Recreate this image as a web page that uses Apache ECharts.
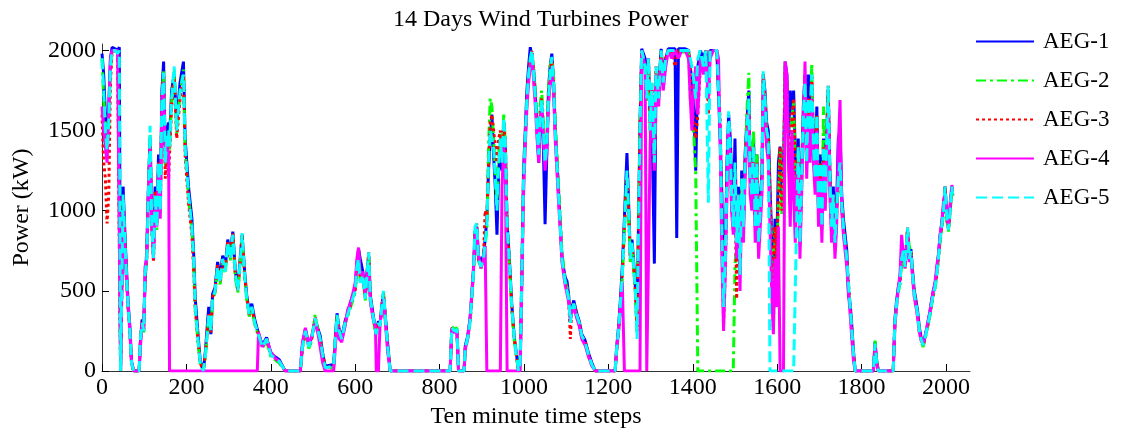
<!DOCTYPE html>
<html>
<head>
<meta charset="utf-8">
<script src="https://cdn.jsdelivr.net/npm/echarts@6/dist/echarts.min.js"></script>
<style>html,body{margin:0;padding:0;background:#fff;}#c{width:1122px;height:435px;}</style>
</head>
<body>
<div id="c"></div>
<script>
const seriesNames = ['AEG-1','AEG-2','AEG-3','AEG-4','AEG-5'];
const xTicks = [0,200,400,600,800,1000,1200,1400,1600,1800,2000];
const yTicks = [0,500,1000,1500,2000];

const steps = [
0,4,8,12,16,20,24,31,37,41,
44,50,56,62,66,70,75,88,91,95,
99,102,106,110,114,118,122,126,130,134,
138,142,146,150,154,158,160,165,171,177,
185,193,197,205,213,217,221,229,233,240,
245,250,253,258,262,268,274,280,286,292,
298,304,310,316,322,328,332,338,343,349,
355,362,368,371,380,390,400,410,420,434,
470,475,482,490,497,505,512,517,523,529,
549,553,557,562,568,576,582,588,594,600,
604,608,612,618,624,628,632,636,642,648,
650,655,659,663,667,671,677,683,825,829,
835,841,845,858,861,866,872,876,880,884,
888,892,898,904,908,912,916,920,924,928,
932,936,940,944,948,952,956,960,965,971,
977,983,987,991,995,999,1003,1007,1011,1015,
1019,1023,1027,1031,1035,1038,1042,1046,1050,1054,
1058,1062,1066,1070,1074,1078,1082,1086,1090,1094,
1098,1102,1106,1110,1113,1118,1125,1131,1137,1145,
1153,1161,1169,1216,1220,1224,1228,1233,1238,1244,
1248,1252,1256,1260,1264,1268,1271,1275,1279,1283,
1287,1291,1295,1299,1303,1309,1313,1319,1325,1330,
1336,1342,1350,1358,1362,1366,1374,1382,1390,1394,
1398,1403,1407,1412,1418,1425,1431,1437,1441,1449,
1457,1461,1465,1469,1473,1477,1481,1485,1489,1492,
1496,1500,1504,1508,1512,1516,1520,1524,1528,1533,
1536,1540,1544,1548,1552,1556,1560,1564,1567,1571,
1575,1579,1583,1587,1591,1595,1599,1603,1607,1611,
1615,1619,1623,1627,1631,1635,1639,1643,1646,1650,
1654,1658,1662,1666,1670,1674,1678,1682,1686,1690,
1694,1698,1702,1706,1710,1714,1718,1721,1725,1729,
1733,1737,1741,1745,1749,1753,1757,1761,1765,1769,
1773,1777,1781,1785,1828,1832,1836,1840,1875,1879,
1883,1887,1891,1895,1899,1903,1909,1913,1917,1921,
1925,1929,1933,1937,1941,1946,1950,1954,1958,1962,
1966,1970,1974,1978,1982,1986,1990,1994,1998,2002,
2006,2010,2014,2016];

const aeg1 = [
1980,1850,1600,1450,1650,1950,2020,2010,2000,2020,
0,1150,750,420,280,60,0,0,180,320,
300,550,750,1150,1450,950,750,1150,950,1350,
1050,1750,1930,1350,1500,1550,1450,1750,1850,1550,
1800,1930,1450,1150,950,750,450,180,60,0,
120,300,400,230,480,520,680,580,720,640,
820,720,870,620,520,720,850,620,470,370,
420,320,260,250,160,210,110,90,70,0,
0,160,260,160,210,320,260,220,110,30,
40,210,360,260,210,310,360,420,470,520,
660,760,700,620,470,620,720,470,360,260,
240,310,290,410,480,360,170,0,0,260,
250,260,0,0,160,210,320,460,620,870,
900,720,680,720,820,950,1250,1450,1600,1350,
1150,850,1250,1400,1250,1550,1380,920,720,420,
210,90,0,60,620,1250,1500,1750,1900,2020,
2020,1880,1720,1520,1300,1550,1650,1400,915,1350,
1750,1900,1980,1820,1520,1320,1120,920,720,640,
580,560,470,320,390,440,360,310,230,190,
110,50,0,0,160,270,420,650,950,1360,
1050,720,820,680,520,300,850,1550,2010,2010,
1950,1750,1950,1550,1600,670,1850,1750,2010,1850,
1950,2010,2010,2010,830,2010,2010,2010,2000,1900,
1800,1600,1250,1900,2000,1950,2000,1800,2000,2000,
2000,2000,1450,1100,450,750,1300,1600,1450,1200,
950,1450,850,1150,650,1250,950,1350,1550,1750,
1250,1150,1450,950,1350,850,1050,1250,1850,1750,
1550,1500,1150,850,600,950,750,1300,1400,1050,
1250,1930,1850,1450,1750,1600,1750,1350,1050,1450,
850,1250,1650,1850,1350,1850,1550,1800,1450,1250,
1650,1050,1350,950,1450,1150,1550,1750,1250,950,
1150,850,1050,1450,1500,1100,950,850,750,470,
420,280,120,0,0,180,60,0,0,320,
440,520,570,720,760,660,880,720,760,620,
500,440,370,270,210,170,210,260,310,370,
440,500,540,620,720,840,920,1020,1150,960,
900,1020,1150,1100];

const aeg2 = [
1950,1700,1550,1400,1500,1880,1990,2000,1990,2000,
0,1050,680,380,240,40,0,0,190,290,
240,620,680,1080,1480,880,720,1080,880,1280,
980,1680,1880,1280,1430,1480,1380,1680,1880,1480,
1730,1880,1380,1080,880,680,380,140,40,0,
90,240,340,260,440,490,640,540,690,610,
790,690,830,580,490,690,840,590,440,340,
390,290,240,230,140,190,90,70,50,0,
0,140,240,140,190,350,240,190,90,10,
20,190,340,240,190,290,340,390,440,490,
640,750,560,590,440,590,730,440,340,240,
220,290,270,390,490,340,140,0,0,280,
260,270,0,0,140,190,290,440,590,840,
910,690,640,690,790,880,1400,1700,1650,1450,
1250,1050,1350,1480,1330,1600,1420,880,680,380,
190,70,0,40,580,1180,1430,1680,1830,1930,
1980,1880,1750,1550,1400,1650,1750,1550,1350,1450,
1750,1900,1950,1850,1550,1350,1150,950,750,650,
560,520,460,310,370,410,340,290,210,170,
90,30,0,0,140,240,380,580,880,1200,
980,680,780,640,480,240,780,1480,1990,1990,
1880,1680,1930,1480,1780,1280,1880,1680,1990,1780,
1930,1990,1990,1990,1990,1990,1990,1990,1990,1700,
1600,1450,1230,0,0,0,0,0,0,0,
0,0,0,0,0,0,0,0,0,0,
0,640,850,1100,650,1150,900,1250,1600,1860,
1300,1150,1500,950,1350,850,1050,1200,1800,1700,
1480,1420,1080,780,300,880,680,1080,1380,980,
1180,1920,1780,1380,1080,1580,1680,1280,980,1380,
780,1180,1580,1780,1280,1680,1480,1920,1380,1180,
1580,980,1280,880,1650,1080,1480,1760,1180,880,
1080,780,980,1180,1280,1030,880,780,680,530,
380,230,90,0,0,190,60,0,0,290,
410,490,540,680,740,640,880,780,740,600,
470,410,340,240,190,150,190,240,290,340,
410,470,510,590,690,800,880,980,1130,940,
870,990,1140,1090];

const aeg3 = [
1600,1300,1200,920,1100,1800,1990,2000,1990,2000,
0,1080,720,390,260,50,0,0,200,310,
260,580,720,1120,1450,920,680,1120,920,1300,
1020,1720,1850,1200,1400,1200,1350,1650,1850,1450,
1700,1850,1350,1050,850,650,380,150,50,0,
110,260,360,240,460,500,660,560,700,630,
810,700,860,600,500,700,850,600,460,350,
400,300,250,240,150,200,100,80,60,0,
0,150,250,150,200,340,250,200,100,20,
30,200,350,250,200,300,350,400,450,500,
650,760,560,600,450,600,740,450,350,250,
230,300,280,400,490,350,150,0,0,270,
250,260,0,0,150,200,300,450,600,850,
920,700,650,700,1000,950,1300,1550,1600,1500,
1400,1300,1450,1500,1350,1550,1400,900,700,400,
200,80,0,50,600,1200,1450,1700,1850,1950,
2000,1850,1700,1500,1350,1600,1700,1500,1300,1400,
1700,1850,1950,1800,1500,1300,1100,900,700,620,
550,500,450,200,380,420,350,300,220,180,
100,40,0,0,150,250,400,600,900,1200,
1000,700,800,650,500,250,800,1500,2000,2000,
1900,1700,1950,1500,1800,1300,1900,1700,2000,1800,
1950,2000,2000,1900,1950,2000,2000,2000,2000,1900,
1700,1550,1450,1600,1900,1900,2000,1600,2000,2000,
2000,2000,1550,950,300,650,1150,1550,1350,1050,
880,1250,450,1100,600,1200,900,1300,1500,1700,
1200,1100,1400,900,1300,800,1000,1200,1850,1700,
1500,1450,1100,800,250,900,700,1100,1400,1000,
1200,1900,1800,1400,1100,1600,1700,1300,1000,1400,
800,1200,1600,1800,1300,1700,1500,1850,1400,1200,
1600,1000,1300,900,1400,1100,1500,1780,1200,900,
1100,800,1000,1200,1300,1050,900,800,700,550,
400,250,100,0,0,170,50,0,0,300,
420,500,550,700,750,650,895,700,750,600,
480,420,350,250,200,160,200,250,300,350,
420,480,520,600,700,820,900,1000,1150,950,
880,1000,1150,1100];

const aeg4 = [
1650,1500,1400,1300,1600,1950,2000,2000,2000,2000,
0,1000,650,400,250,50,0,0,150,300,
250,650,700,1100,1400,900,700,1050,900,1250,
950,1650,1800,1300,1400,1350,0,0,0,0,
0,0,0,0,0,0,0,0,0,0,
0,0,0,0,0,0,0,0,0,0,
0,0,0,0,0,0,0,0,0,0,
0,0,0,240,150,200,120,80,60,0,
0,180,270,160,220,300,230,150,50,0,
0,150,300,200,180,280,380,420,480,550,
700,770,600,620,480,580,650,430,330,280,
0,0,300,380,450,320,120,0,0,260,
240,250,0,0,140,190,320,470,620,820,
900,720,640,690,780,0,0,0,0,0,
0,0,0,0,1150,1400,1250,0,0,0,
0,0,0,0,0,1100,1400,1650,1800,1900,
1980,1800,1650,1450,1300,1550,1650,1450,1250,1350,
1650,1800,1900,1750,1450,1250,1050,880,680,600,
530,480,430,320,360,400,330,280,200,160,
90,30,0,0,140,240,380,550,0,0,
0,0,0,0,0,0,0,0,2000,2000,
1900,0,0,1400,1750,1250,1850,1650,1950,1750,
1900,2000,1950,2000,2000,1950,2000,2000,1950,1700,
1500,1800,1900,1600,1950,1850,1950,1700,1950,2000,
2000,1950,1400,700,250,600,1100,1500,1300,1000,
850,1200,700,1000,500,1100,800,1200,1400,1600,
1100,1000,1300,800,1200,700,900,1100,1750,1600,
1400,1300,900,500,230,700,400,900,0,0,
0,1930,1850,1300,900,1500,1100,800,1200,1300,
700,1100,1500,1930,1200,1600,1300,1700,1300,1100,
1500,900,1200,800,1300,1000,1400,1600,1100,800,
1000,700,900,1400,1690,1000,850,750,650,500,
350,200,60,0,0,150,40,0,0,280,
400,520,600,850,720,640,850,680,720,580,
460,400,330,240,190,170,210,260,320,370,
440,500,550,650,720,850,920,1050,1100,980,
900,1050,1160,1120];

const aeg5 = [
1950,1750,1500,1380,1550,1900,2000,2000,1980,2000,
0,1100,700,400,250,50,0,0,200,300,
250,600,700,1100,1530,900,700,1100,900,1300,
1000,1700,1860,1300,1450,1500,1400,1700,1900,1500,
1750,1850,1400,1100,900,700,400,150,50,0,
100,250,350,250,450,500,650,550,700,620,
800,700,850,600,500,700,860,600,450,350,
400,300,250,240,150,200,100,80,60,0,
0,150,250,150,200,330,250,200,100,20,
30,200,350,250,200,300,350,400,450,500,
650,700,550,600,450,600,740,450,350,250,
230,300,280,400,500,350,150,0,0,270,
250,260,0,0,150,200,300,450,600,900,
920,700,650,700,800,900,1300,1500,1500,1400,
1200,1000,1300,1450,1300,1580,1400,900,700,400,
200,80,0,50,600,1200,1450,1700,1850,1950,
2000,1850,1700,1500,1350,1600,1700,1500,1300,1400,
1700,1850,1960,1800,1500,1300,1100,900,700,620,
550,500,450,300,380,420,350,300,220,180,
100,40,0,0,150,250,400,600,900,1250,
1000,700,800,650,500,200,800,1500,2000,2000,
1900,1700,1950,1500,1800,1300,1900,1700,2000,1800,
1950,2000,2000,2000,2000,2000,2000,2000,2000,1950,
1900,1800,1700,1950,2000,1900,2000,1050,2000,2000,
2000,2000,1500,900,400,700,1200,1620,1400,1100,
900,1300,800,1100,600,1200,900,1300,1500,1700,
1200,1100,1400,900,1300,800,1000,1200,1870,1700,
1500,1450,0,0,0,0,0,0,0,0,
0,0,0,0,0,0,0,0,900,1400,
800,1200,1600,1800,1300,1700,1500,1850,1400,1200,
1600,1000,1300,900,1400,1100,1500,1780,1200,900,
1100,800,1000,1200,1300,1050,900,800,700,550,
400,250,100,0,0,170,50,0,0,300,
420,500,550,700,750,650,895,700,750,600,
480,420,350,250,200,160,200,250,300,350,
420,480,520,600,700,820,900,1000,1150,950,
880,1000,1150,1100];

const values = [aeg1, aeg2, aeg3, aeg4, aeg5];
const colors = ['#0000FF','#00FF00','#FF0000','#FF00FF','#00FFFF'];
const dashes = ['solid',[10,4,3,4],[3,3],'solid',[11,5]];
const FONT = 'Liberation Serif';
const plain = v => String(v);

const chart = echarts.init(document.getElementById('c'), null, {renderer:'canvas'});
chart.setOption({
  animation: false,
  backgroundColor: '#ffffff',
  title: {
    text: '14 Days Wind Turbines Power',
    left: 388, top: 3,
    textStyle: {fontFamily: FONT, fontSize: 24, fontWeight: 'normal', color: '#000'}
  },
  legend: {
    orient: 'vertical', left: 970, top: 25,
    itemWidth: 58, itemHeight: 14, itemGap: 16,
    data: seriesNames,
    itemStyle: {opacity: 0},
    textStyle: {fontFamily: FONT, fontSize: 23, color: '#000', lineHeight: 23, padding: [0,0,0,4]}
  },
  grid: {left: 102, right: 152, top: 44, bottom: 64, containLabel: false},
  xAxis: {
    type: 'value', min: 0, max: 2057,
    name: 'Ten minute time steps', nameLocation: 'middle', nameGap: 30,
    nameTextStyle: {fontFamily: FONT, fontSize: 24, color: '#000'},
    axisLine: {show: true, lineStyle: {color: '#333', width: 1}},
    axisTick: {show: true, inside: true, length: 7, customValues: xTicks, lineStyle: {color: '#000'}},
    axisLabel: {customValues: xTicks, formatter: plain, fontFamily: FONT, fontSize: 24, color: '#000', margin: 5},
    splitLine: {show: false}
  },
  yAxis: {
    type: 'value', min: 0, max: 2040,
    name: 'Power (kW)', nameLocation: 'middle', nameGap: 68,
    nameTextStyle: {fontFamily: FONT, fontSize: 24, color: '#000'},
    axisLine: {show: true, lineStyle: {color: '#333', width: 1}},
    axisTick: {show: true, inside: true, length: 7, customValues: yTicks, lineStyle: {color: '#000'}},
    axisLabel: {customValues: yTicks, formatter: plain, fontFamily: FONT, fontSize: 24, color: '#000', margin: 6},
    splitLine: {show: false}
  },
  series: seriesNames.map((name, k) => ({
    name: name,
    type: 'line',
    symbol: 'none',
    showSymbol: false,
    clip: true,
    data: steps.map((s, i) => [s, values[k][i]]),
    lineStyle: {color: colors[k], width: 3, type: dashes[k]},
    itemStyle: {color: colors[k]},
    emphasis: {disabled: true}
  }))
});
</script>
</body>
</html>
